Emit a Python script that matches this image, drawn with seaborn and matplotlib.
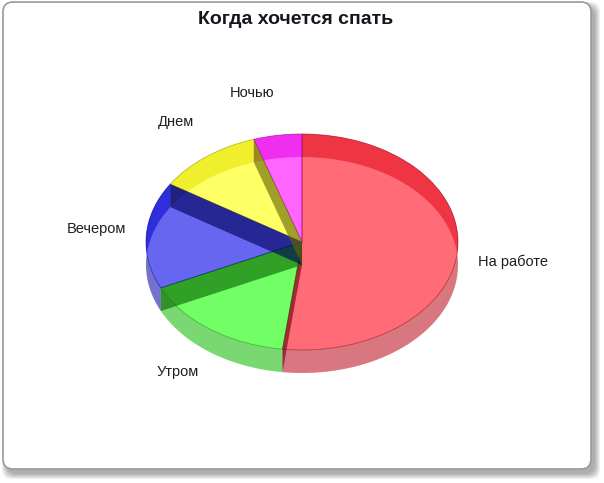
import numpy as np
import matplotlib.pyplot as plt
import seaborn as sns
from matplotlib.patches import Polygon, FancyBboxPatch
from matplotlib.colors import to_rgb

title = "Когда хочется спать"
labels = ["На работе", "Утром", "Вечером", "Днем", "Ночью"]
values = [52, 16, 16, 11, 5]
colors = ["#ff0a1e", "#14ff00", "#0000e8", "#ffff00", "#ff00ff"]

sns.set_theme(style="white")
plt.rcParams["font.family"] = ["Liberation Sans", "DejaVu Sans"]


def darker(c, f):
	return tuple(np.array(to_rgb(c)) * f)


W, H = 604, 483
fig = plt.figure(figsize=(W / 100, H / 100), dpi=100)

# card with a soft shadow, in pixel units
bg = fig.add_axes([0, 0, 1, 1])
bg.set_xlim(0, W)
bg.set_ylim(H, 0)
bg.axis("off")
for pad in [5, 4, 3, 2, 1, 0]:
	bg.add_patch(FancyBboxPatch((7, 7), 588, 467, boxstyle=f"round,pad={pad},rounding_size=10",
		fc="black", ec="none", alpha=0.06))
bg.add_patch(FancyBboxPatch((3, 2), 588, 467, boxstyle="round,pad=0,rounding_size=10",
	fc="white", ec="#9a9a9a", lw=1.2))
bg.text(296, 19, title, ha="center", va="center", fontsize=14, fontweight="bold", color="#15151f")

# pie axes: 1 data unit = rx px horizontally, ry px vertically
cx, cy, rx, ry = 302, 242, 156, 108
depth = 23 / ry
ax = fig.add_axes([0, 0, 1, 1])
ax.patch.set_alpha(0)

frac = np.array(values) / np.sum(values)
ends = np.cumsum(frac) * 360
starts = ends - frac * 360

for s, e, c in zip(starts, ends, colors):
	t = np.radians(np.linspace(s, e, 80))
	xs, ys = np.sin(t), np.cos(t)
	side = np.c_[np.r_[xs, xs[::-1]], np.r_[ys, ys[::-1] - depth]]
	ax.add_patch(Polygon(side, fc=darker(c, 0.72), alpha=0.55, lw=0, zorder=0.5))
	# inner wall at the clockwise end of the slice, seen through the top
	te = np.radians(e)
	wall = [(0, 0), (np.sin(te), np.cos(te)), (np.sin(te), np.cos(te) - depth), (0, -depth)]
	ax.add_patch(Polygon(wall, fc=darker(c, 0.4), alpha=0.62, lw=0, zorder=3))

wedges, _ = ax.pie(values, colors=colors, startangle=90, counterclock=False,
	wedgeprops=dict(alpha=0.6, lw=0.6, zorder=2))
for w, c in zip(wedges, colors):
	w.set_edgecolor(darker(c, 0.6))

mids = np.radians((starts + ends) / 2)
for m, lab in zip(mids, labels):
	x, y = 1.13 * np.sin(m), 1.367 * np.cos(m) - 0.033
	ax.text(x, y, lab, ha="left" if np.sin(m) > 0 else "right",
		va="bottom" if np.cos(m) > 0 else "top", fontsize=10.5, color="#1e1e1e")

ax.set_aspect("auto")
ax.set_xlim(-cx / rx, (W - cx) / rx)
ax.set_ylim(-(H - cy) / ry, cy / ry)
ax.axis("off")

fig.savefig("out.png", dpi=100)
